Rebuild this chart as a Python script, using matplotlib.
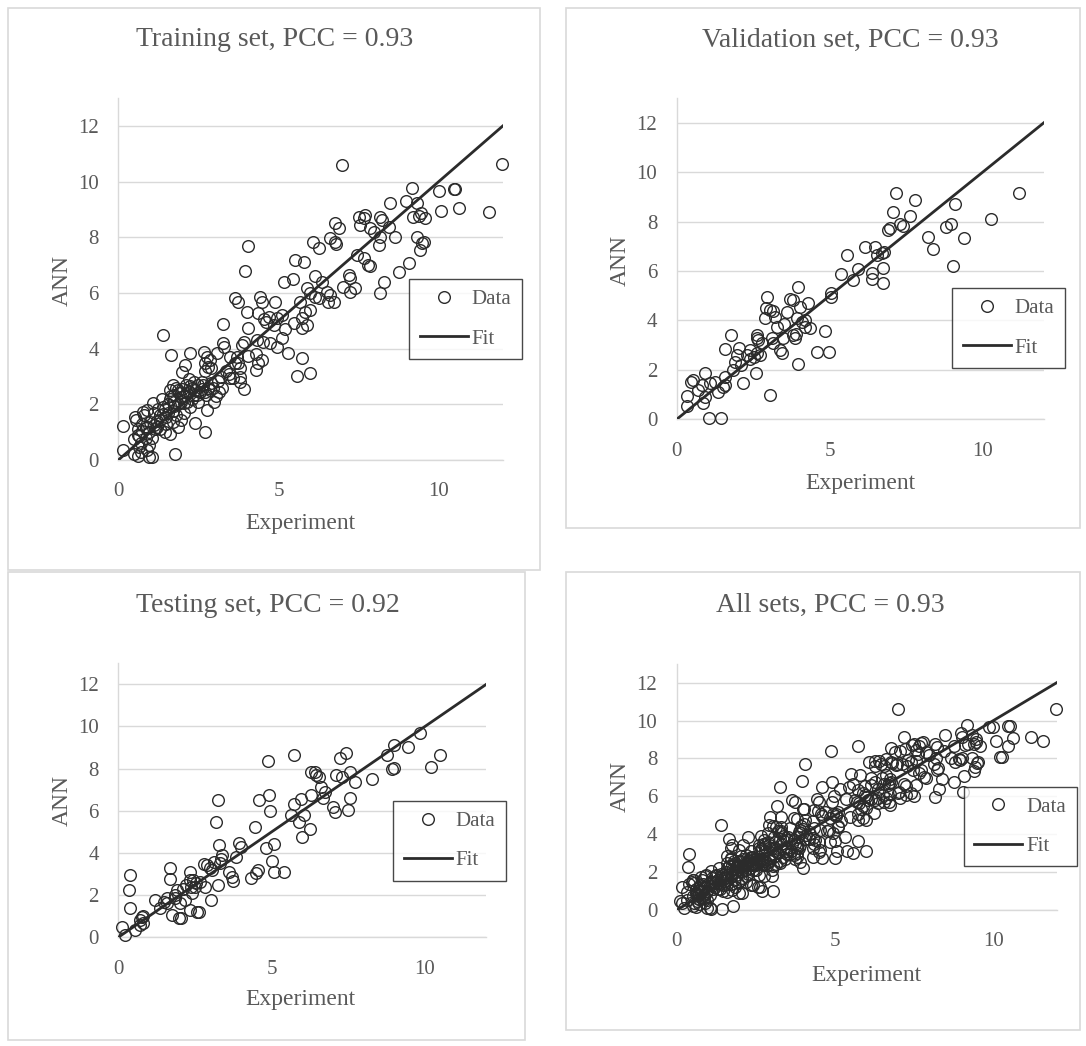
import matplotlib
matplotlib.use("Agg")
import matplotlib.pyplot as plt
from matplotlib.patches import Rectangle

plt.rcParams['font.family'] = ['Liberation Serif', 'DejaVu Serif']

# ---- data ----
train_x = [6.98, 11.98, 9.17, 10.0, 10.47, 10.52, 8.47, 8.99, 9.34, 10.08, 10.63, 11.56,
           9.2, 9.45, 9.58, 9.4, 8.16, 8.23, 7.5, 7.66, 7.55, 7.71, 8.44, 7.87, 7.97, 6.77, 6.88, 6.77,
           8.18, 8.13, 8.65, 9.34, 9.48, 9.53, 9.43, 7.45, 7.66, 7.81, 7.87, 7.19, 7.24, 7.03, 7.4, 7.24,
           9.09, 8.75, 8.28, 8.16, 6.09, 6.25, 6.62, 6.8, 5.52, 5.8, 5.16, 5.45, 6.15, 6.36, 6.51, 6.62, 6.72, 6.56,
           5.89, 5.99, 6.15, 6.25, 5.99, 5.83, 5.73, 5.89, 5.47, 5.73, 5.68, 3.65, 3.75, 4.43, 4.48, 4.9, 4.01,
           4.35, 4.55, 4.7, 4.95, 5.1, 4.06, 4.6, 4.85, 5.2, 4.33, 4.53, 4.74, 4.95, 5.11, 5.31, 5.73, 5.57, 5.99,
           3.91, 3.7, 3.75, 3.8, 4.05, 4.3, 4.35, 4.5, 4.3, 3.8, 4.06, 3.96, 1.41, 3.28, 1.65, 2.24, 2.66, 2.76, 2.87,
           3.07, 3.28, 3.3, 3.49, 3.65, 3.86, 2.08, 1.98, 2.7, 2.8, 2.9, 2.72, 3.49, 3.59, 3.91, 3.8, 3.25, 3.15, 3.05,
           1.6, 1.7, 1.8, 1.9, 2.0, 2.1, 2.2, 2.3, 2.4, 2.5, 2.6, 2.7, 2.8, 2.9, 2.45, 2.35, 1.75, 2.05, 2.6, 2.2,
           2.76, 2.4, 2.71, 3.0,
           0.16, 0.52, 0.78, 0.89, 1.09, 0.16, 0.5, 0.6, 0.7, 0.95, 1.77, 1.05, 0.5, 0.6, 0.7, 0.85, 0.95, 0.75, 0.65,
           1.3, 1.45, 1.6, 1.85, 1.5, 1.7, 1.5, 1.7, 1.8, 1.95, 2.05, 1.2, 1.3, 1.4, 1.1, 1.55, 1.6, 1.75, 1.85, 1.95,
           2.15, 2.3, 1.35, 1.25, 1.0, 0.9, 0.55, 0.8, 1.15, 2.25, 2.5,
           1.45, 1.55, 1.65, 1.75, 1.85, 1.95, 2.05, 2.15, 2.25, 2.35, 2.55, 2.65, 2.75, 2.85, 2.95,
           1.2, 1.3, 1.4, 0.65, 0.75, 0.85, 0.95, 1.05, 1.1, 0.6, 0.9, 3.1, 3.2, 3.35, 3.45]
train_y = [10.6, 10.62, 9.79, 9.68, 9.73, 9.72, 9.25, 9.32, 9.22, 8.95, 9.07, 8.91,
           8.74, 8.89, 8.68, 8.77, 8.74, 8.62, 8.74, 8.68, 8.44, 8.8, 8.38, 8.32, 8.2, 8.53, 8.32, 7.84,
           8.02, 7.72, 8.02, 8.02, 7.78, 7.84, 7.54, 7.37, 7.25, 7.0, 6.97, 6.65, 6.53, 6.23, 6.17, 6.05,
           7.09, 6.77, 6.41, 5.99, 7.84, 7.6, 7.97, 7.76, 7.19, 7.13, 6.41, 6.49, 6.61, 6.41, 6.05, 5.93, 5.69, 5.69,
           6.17, 5.99, 5.87, 5.81, 5.39, 5.33, 5.09, 4.85, 4.91, 4.73, 5.69, 5.81, 5.69, 5.87, 5.69, 5.69, 5.33,
           5.27, 5.05, 5.15, 5.09, 5.2, 4.73, 4.95, 4.85, 4.7, 4.31, 4.25, 4.19, 4.07, 4.37, 3.83, 3.65, 3.02, 3.11,
           4.25, 3.7, 3.5, 3.3, 3.75, 3.8, 3.5, 3.6, 3.25, 2.99, 7.7, 6.79, 4.49, 4.89, 3.77, 3.83, 3.89, 3.71, 3.59,
           3.83, 4.19, 4.05, 3.71, 3.47, 4.13, 3.41, 3.17, 3.2, 3.35, 3.3, 3.5, 2.94, 2.94, 2.54, 2.8, 2.6, 2.45, 2.3,
           2.5, 2.7, 2.6, 2.4, 2.55, 2.7, 2.45, 2.6, 2.5, 2.7, 2.55, 2.45, 2.6, 2.75, 2.35, 2.8, 2.35, 2.3, 2.8, 2.9,
           1.8, 1.32, 1.02, 2.1,
           1.22, 1.56, 1.74, 1.8, 2.04, 0.36, 0.2, 0.15, 0.3, 0.12, 0.22, 0.1, 0.75, 0.9, 0.6, 0.8, 1.0, 1.05, 0.45,
           1.1, 1.0, 0.95, 1.2, 1.3, 1.35, 1.55, 1.75, 1.6, 1.45, 1.7, 1.4, 1.6, 1.9, 1.7, 2.0, 2.2, 2.1, 2.0, 2.25,
           2.1, 2.2, 2.2, 1.85, 1.35, 1.2, 1.45, 1.6, 1.1, 1.9, 2.1,
           1.85, 1.7, 2.3, 1.95, 2.5, 2.1, 2.05, 2.4, 2.65, 2.35, 2.45, 2.7, 2.35, 2.5, 2.6,
           1.2, 1.45, 1.65, 0.85, 1.3, 1.15, 0.55, 0.8, 1.25, 1.1, 0.35, 2.85, 3.0, 3.2, 3.1]

val_x = [0.33, 0.33, 0.52, 0.48, 0.82, 0.93, 0.87, 0.93, 1.09, 1.25,
         1.36, 1.07, 1.44, 1.58, 1.58, 1.76, 1.58, 1.85, 1.91, 2.02,
         1.96, 2.18, 2.1, 2.29, 2.4, 2.51, 2.61, 2.61, 2.61, 2.66,
         2.59, 2.72, 2.94, 2.89, 2.91, 3.14, 3.16, 3.05, 3.1, 3.27,
         3.43, 3.37, 3.49, 3.59, 3.7, 3.81, 3.79, 3.87, 3.98, 3.98,
         3.92, 4.03, 4.08, 4.19, 4.3, 4.36, 4.58, 4.85, 4.99, 5.03,
         5.03, 5.36, 5.56, 5.75, 5.94, 6.15, 6.37, 6.37, 6.48, 6.54,
         6.7, 6.78, 6.75, 6.73, 6.92, 6.97, 7.06, 7.17, 7.3, 7.39,
         7.63, 7.79, 8.22, 8.39, 8.8, 8.95, 9.1, 9.04, 9.39, 10.27,
         11.2, 3.05, 3.21, 4.2, 3.5, 3.9, 1.5, 0.7, 2.4, 2.8]
val_y = [0.94, 0.54, 1.59, 1.5, 1.39, 1.86, 0.65, 0.92, 1.46, 1.52,
         1.12, 0.07, 0.07, 1.39, 1.73, 3.41, 2.83, 1.99, 2.33, 2.87,
         2.6, 1.48, 2.2, 2.6, 2.8, 2.53, 2.67, 3.27, 3.41, 3.2,
         1.86, 2.6, 4.93, 4.08, 4.49, 4.39, 3.07, 0.98, 3.3, 3.75,
         2.67, 2.8, 3.27, 4.35, 4.85, 4.82, 3.41, 3.27, 5.34, 2.22,
         4.08, 4.56, 3.95, 3.75, 4.69, 3.68, 2.74, 3.58, 2.74, 5.09,
         4.95, 5.86, 6.64, 5.63, 6.08, 6.98, 5.9, 5.66, 6.98, 6.64,
         6.71, 6.75, 6.13, 5.53, 7.65, 7.72, 8.4, 9.16, 7.92, 7.82,
         8.22, 8.89, 7.39, 6.91, 7.79, 7.9, 8.73, 6.21, 7.35, 8.09,
         9.14, 4.42, 4.15, 4.0, 3.85, 3.45, 1.3, 1.2, 2.45, 3.1]

test_x = [0.11, 0.22, 0.38, 0.36, 0.38, 0.55, 0.71, 0.76, 0.8, 0.72,
          1.2, 1.37, 1.48, 1.59, 1.7, 1.7, 1.75, 1.86, 1.91, 1.97,
          2.05, 2.02, 2.19, 2.35, 2.35, 2.37, 2.41, 2.35, 2.57, 2.62,
          2.52, 2.68, 2.84, 2.9, 3.01, 3.06, 3.12, 3.17, 3.26, 3.28,
          3.25, 3.31, 3.39, 3.61, 3.72, 3.75, 3.83, 3.94, 3.99, 4.32,
          4.45, 4.49, 4.54, 4.6, 4.81, 4.87, 4.92, 4.96, 5.09, 5.01,
          5.07, 5.39, 5.63, 5.72, 5.74, 5.88, 5.96, 5.99, 6.05, 6.24,
          6.27, 6.27, 6.4, 6.46, 6.56, 6.62, 6.73, 6.68, 7.0, 7.06,
          7.11, 7.22, 7.44, 7.28, 7.55, 7.55, 7.49, 7.71, 8.26, 8.75,
          8.92, 9.0, 9.0, 9.44, 9.85, 10.21, 10.48,
          1.6, 2.1, 2.2, 2.5, 2.8, 1.85, 0.8, 2.45, 3.0, 3.35]
test_y = [0.47, 0.11, 2.96, 2.25, 1.38, 0.35, 0.8, 0.95, 1.0, 0.6,
          1.77, 1.38, 1.69, 1.61, 3.27, 2.75, 1.06, 1.85, 2.25, 0.9,
          0.9, 1.61, 1.77, 3.11, 2.72, 2.4, 2.09, 1.3, 1.22, 1.22,
          2.56, 2.64, 2.4, 3.43, 1.77, 3.19, 3.59, 5.49, 6.51, 4.38,
          2.48, 3.51, 3.91, 3.11, 2.88, 2.69, 3.83, 4.46, 4.3, 2.8,
          5.25, 3.04, 3.19, 6.51, 4.22, 8.38, 6.75, 6.01, 4.43, 3.64,
          3.11, 3.11, 5.8, 6.32, 8.65, 5.49, 6.55, 4.74, 5.8, 5.12,
          6.75, 7.86, 7.86, 7.7, 7.62, 7.15, 6.91, 6.6, 6.2, 5.93,
          7.7, 8.49, 8.73, 7.62, 7.86, 6.59, 6.04, 7.38, 7.49, 8.65,
          7.97, 8.02, 9.12, 9.01, 9.68, 8.06, 8.65,
          1.85, 2.3, 2.5, 2.4, 3.5, 2.0, 0.7, 2.7, 3.3, 3.7]

all_x = train_x + val_x + test_x
all_y = train_y + val_y + test_y

fit_x = [0, 12]
fit_y = [0, 12]

titles = ["Training set, PCC = 0.93", "Validation set, PCC = 0.93",
          "Testing set, PCC = 0.92", "All sets, PCC = 0.93"]
x_ticks = [0, 5, 10]
y_ticks = [0, 2, 4, 6, 8, 10, 12]

# ---- layout (pixels) ----
W, H = 1086, 1046
TXT = '#595959'
GRID = '#D9D9D9'
INK = '#2b2b2b'

fig = plt.figure(figsize=(W / 100, H / 100), dpi=100)

def fx(px):
    return px / W

def fy(py):
    return 1 - py / H

panels = [
    # axes (l, t, r, b), border (l, t, r, b), title xy, xlabel xy, ylabel xy, legend top-left
    dict(ax=(118.3, 98.2, 502.7, 460), box=(8, 8, 540, 570), title=(275, 40),
         xl=(300, 523), yl=(62, 280), leg=(409.3, 279.3)),
    dict(ax=(676.7, 98, 1043.9, 419.3), box=(565.7, 8, 1080, 528.3), title=(850, 40),
         xl=(860, 483), yl=(620, 260), leg=(952.3, 288.3)),
    dict(ax=(118.3, 663.2, 486.3, 937.3), box=(8, 572.3, 525, 1040), title=(268, 605),
         xl=(300, 1000), yl=(62, 800), leg=(393.3, 801)),
    dict(ax=(676.7, 663.8, 1056.6, 910), box=(565.7, 572.3, 1080, 1030), title=(830, 605),
         xl=(866, 975), yl=(620, 787), leg=(964, 786.7)),
]
series = [(train_x, train_y), (val_x, val_y), (test_x, test_y), (all_x, all_y)]

for p, (sx, sy), title in zip(panels, series, titles):
    l, t, r, b = p['box']
    fig.patches.append(Rectangle((fx(l), fy(b)), fx(r - l), (b - t) / H, transform=fig.transFigure,
                                 fill=False, edgecolor=GRID, linewidth=1.2))

    l, t, r, b = p['ax']
    ax = fig.add_axes([fx(l), fy(b), fx(r - l), (b - t) / H])
    ax.plot(sx, sy, linestyle='none', marker='o', markersize=8.4, markerfacecolor='none',
            markeredgecolor=INK, markeredgewidth=1.0, clip_on=False, label='Data', zorder=3)
    ax.plot(fit_x, fit_y, color=INK, linewidth=2, label='Fit', zorder=4)

    ax.set_xlim(0, 12)
    ax.set_ylim(0, 13)
    ax.set_xticks(x_ticks)
    ax.set_yticks(y_ticks)
    ax.tick_params(length=0, labelsize=15, labelcolor=TXT)
    ax.tick_params(axis='x', pad=16)
    ax.tick_params(axis='y', pad=14)
    ax.grid(axis='y', color=GRID, linewidth=1)
    ax.set_axisbelow(True)
    for side in ['top', 'right']:
        ax.spines[side].set_visible(False)
    for side in ['left', 'bottom']:
        ax.spines[side].set_color(GRID)
        ax.spines[side].set_linewidth(1)

    fig.text(fx(p['title'][0]), fy(p['title'][1]), title, ha='center', va='center',
             fontsize=20, color=TXT)
    fig.text(fx(p['xl'][0]), fy(p['xl'][1]), 'Experiment', ha='center', va='center',
             fontsize=17, color=TXT)
    fig.text(fx(p['yl'][0]), fy(p['yl'][1]), 'ANN', ha='center', va='center',
             fontsize=17, color=TXT, rotation=90)

    leg = ax.legend(loc='upper left', bbox_to_anchor=(fx(p['leg'][0]), fy(p['leg'][1])),
                    bbox_transform=fig.transFigure, borderaxespad=0, numpoints=1,
                    fontsize=15, frameon=True, fancybox=False, handlelength=2.3,
                    handletextpad=0.2, labelspacing=0.95, borderpad=0.5)
    leg.get_frame().set_edgecolor('#1a1a1a')
    leg.get_frame().set_linewidth(1.0)
    for txt in leg.get_texts():
        txt.set_color(TXT)

fig.savefig('out.png', dpi=100)
